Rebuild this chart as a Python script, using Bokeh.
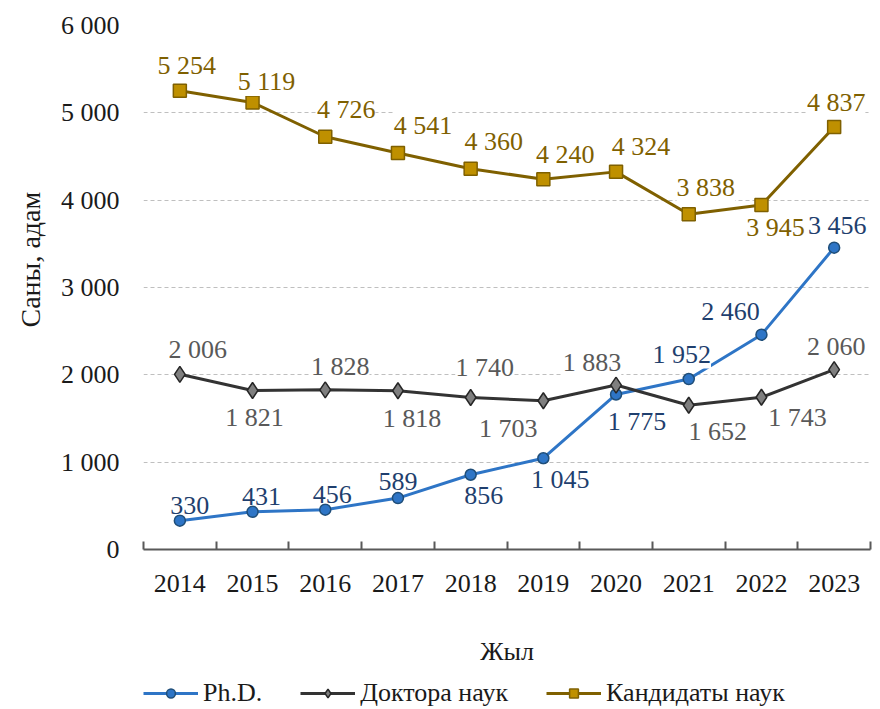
import math
from bokeh.plotting import figure
from bokeh.layouts import column
from bokeh.models import (ColumnDataSource, LabelSet, Legend, LegendItem, FixedTicker,
                          Range1d, Title)
from bokeh.embed import file_html
from bokeh.resources import INLINE

# ---------------- data ----------------
years = [2014, 2015, 2016, 2017, 2018, 2019, 2020, 2021, 2022, 2023]
phd = [330, 431, 456, 589, 856, 1045, 1775, 1952, 2460, 3456]
doktor = [2006, 1821, 1828, 1818, 1740, 1703, 1883, 1652, 1743, 2060]
kandidat = [5254, 5119, 4726, 4541, 4360, 4240, 4324, 3838, 3945, 4837]
y_ticks = [0, 1000, 2000, 3000, 4000, 5000, 6000]
series_names = ["Ph.D.", "Доктора наук", "Кандидаты наук"]
x_title = "Жыл"
y_title = "Саны, адам"

# label placement (screen px, y up)
phd_dx = [10, 9, 7, 0, 13, 17, 21, -7, -31, 3]
phd_dy = [15, 15, 15, 17, -21, -21, -27, 25, 23, 22]
dok_dx = [18, 2, 15, 14, 14, -35, -24, 29, 36, 2]
dok_dy = [25, -27, 23, -28, 30, -28, 23, -26, -20, 23]
kan_dx = [7, 14, 21, 25, 23, 22, 25, 17, 14, 2]
kan_dy = [25, 21, 27, 27, 27, 25, 25, 27, -23, 25]


def fmt(v):
    return f"{v:,}".replace(",", " ")


FONT = "Liberation Serif"
FS = "26px"
TXT = "#1a1a1a"

p = figure(width=880, height=672, output_backend="svg", toolbar_location=None,
           x_range=Range1d(years[0] - 0.5, years[-1] + 0.5), y_range=Range1d(0, 6000),
           min_border_left=143, min_border_right=10, min_border_top=25, min_border_bottom=123)
p.outline_line_color = None
p.background_fill_color = "white"
p.border_fill_color = "white"

# grid
p.xgrid.grid_line_color = None
p.ygrid.grid_line_color = "#BFBFBF"
p.ygrid.grid_line_dash = "4 3"
p.ygrid.grid_line_width = 1

# y axis
p.yaxis.ticker = FixedTicker(ticks=y_ticks)
p.yaxis.major_label_overrides = {t: fmt(t) for t in y_ticks}
p.yaxis.axis_line_color = None
p.yaxis.major_tick_line_color = None
p.yaxis.minor_tick_line_color = None
p.yaxis.major_label_standoff = 18
p.yaxis.major_label_text_font = FONT
p.yaxis.major_label_text_font_size = FS
p.yaxis.major_label_text_color = TXT

# x axis
p.xaxis.ticker = FixedTicker(ticks=years, minor_ticks=[y - 0.5 for y in years] + [years[-1] + 0.5])
p.xaxis.major_label_overrides = {y: str(y) for y in years}
p.xaxis.axis_line_color = "#595959"
p.xaxis.axis_line_width = 2
p.xaxis.major_tick_line_color = None
p.xaxis.minor_tick_line_color = "#595959"
p.xaxis.minor_tick_line_width = 2
p.xaxis.minor_tick_in = 8
p.xaxis.minor_tick_out = 0
p.xaxis.major_tick_out = 0
p.xaxis.major_tick_in = 0
p.xaxis.major_label_standoff = 25
p.xaxis.major_label_text_font = FONT
p.xaxis.major_label_text_font_size = FS
p.xaxis.major_label_text_color = TXT
p.xaxis.axis_label = x_title
p.xaxis.axis_label_text_font = FONT
p.xaxis.axis_label_text_font_size = FS
p.xaxis.axis_label_text_font_style = "normal"
p.xaxis.axis_label_text_color = TXT
p.xaxis.axis_label_standoff = 42

# y title in the left panel (anchored at the bottom, shifted up)
p.add_layout(Title(text=y_title, align="left", offset=222, standoff=24,
                   text_font=FONT, text_font_size="28px", text_font_style="normal",
                   text_color=TXT), "left")

styles = [
    dict(data=phd, dx=phd_dx, dy=phd_dy, line="#2E75C6", fill="#2E75C6", edge="#1F4E79",
         marker="circle", size=11, label_color="#1F3F6E"),
    dict(data=doktor, dx=dok_dx, dy=dok_dy, line="#333333", fill="#7F7F7F", edge="#262626",
         marker="diamond", size=16, label_color="#595959"),
    dict(data=kandidat, dx=kan_dx, dy=kan_dy, line="#7F6000", fill="#BF9000", edge="#7F6000",
         marker="square", size=13, label_color="#7F6000"),
]

srcs = []
for st in styles:
    src = ColumnDataSource(dict(x=years, y=st["data"], txt=[fmt(v) for v in st["data"]],
                                dx=st["dx"], dy=st["dy"]))
    p.line("x", "y", source=src, line_color=st["line"], line_width=3)
    p.scatter("x", "y", source=src, marker=st["marker"], size=st["size"],
              fill_color=st["fill"], line_color=st["edge"], line_width=1.5)
    srcs.append(src)

# data labels drawn after all lines
for src, st in zip(srcs, styles):
    p.add_layout(LabelSet(x="x", y="y", text="txt", source=src, x_offset="dx", y_offset="dy",
                          text_align="center", text_baseline="middle", text_font=FONT,
                          text_font_size=FS, text_color=st["label_color"],
                          background_fill_color="white", background_fill_alpha=1.0))

# ---------- legend strip (series re-drawn out of view, only their legend glyphs show) ----------
lg = figure(width=880, height=36, output_backend="svg", toolbar_location=None,
            x_range=Range1d(years[0] - 0.5, years[-1] + 0.5), y_range=Range1d(-2, -1),
            x_axis_location=None, y_axis_location=None,
            min_border_left=0, min_border_right=0, min_border_top=0, min_border_bottom=0)
lg.outline_line_color = None
lg.xgrid.visible = False
lg.ygrid.visible = False
lg.background_fill_color = "white"
lg.border_fill_color = "white"

items = []
for name, st in zip(series_names, styles):
    s2 = ColumnDataSource(dict(x=years, y=st["data"]))
    lr = lg.line("x", "y", source=s2, line_color=st["line"], line_width=3)
    sr = lg.scatter("x", "y", source=s2, marker=st["marker"], size=st["size"],
                    fill_color=st["fill"], line_color=st["edge"], line_width=1.5)
    items.append(LegendItem(label=name, renderers=[lr, sr]))

legend = Legend(items=items, orientation="horizontal", location=(0, 0))
legend.label_text_font = FONT
legend.label_text_font_size = FS
legend.label_text_color = TXT
legend.glyph_width = 55
legend.glyph_height = 22
legend.label_standoff = 5
legend.spacing = 38
legend.padding = 0
legend.margin = 0
legend.border_line_color = None
legend.background_fill_alpha = 0
lg.add_layout(legend)

layout = column(p, lg, spacing=0)
open("out.html", "w").write(file_html(layout, INLINE))
